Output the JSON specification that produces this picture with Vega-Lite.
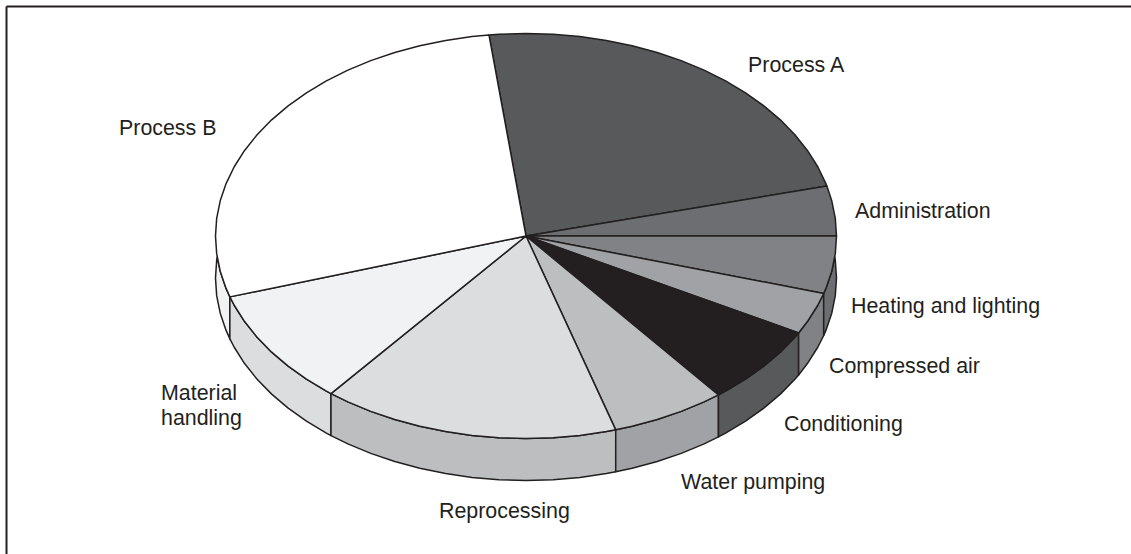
{
  "$schema": "https://vega.github.io/schema/vega-lite/v6.json",
  "width": 1125,
  "height": 548,
  "padding": {"left": 6, "top": 6, "right": 0, "bottom": 0},
  "autosize": "none",
  "background": "white",
  "config": {"view": {"stroke": null}},
  "datasets": {
    "walls": [
      {"sector":"Process B","n":1,"u":-0.9946,"v":-0.1037},{"sector":"Process B","n":2,"u":-0.9848,"v":-0.1736},{"sector":"Process B","n":3,"u":-0.9659,"v":-0.2588},{"sector":"Process B","n":4,"u":-0.9537,"v":-0.3007},{"sector":"Process B","n":5,"u":-0.9537,"v":-0.5081},{"sector":"Process B","n":6,"u":-0.9659,"v":-0.4662},{"sector":"Process B","n":7,"u":-0.9848,"v":-0.381},{"sector":"Process B","n":8,"u":-0.9962,"v":-0.2946},{"sector":"Process B","n":9,"u":-1,"v":-0.2074},{"sector":"Process B","n":10,"u":-0.9962,"v":-0.1202},
      {"sector":"Material handling","n":1,"u":-0.9537,"v":-0.3007},{"sector":"Material handling","n":2,"u":-0.9397,"v":-0.342},{"sector":"Material handling","n":3,"u":-0.9063,"v":-0.4226},{"sector":"Material handling","n":4,"u":-0.866,"v":-0.5},{"sector":"Material handling","n":5,"u":-0.8192,"v":-0.5736},{"sector":"Material handling","n":6,"u":-0.766,"v":-0.6428},{"sector":"Material handling","n":7,"u":-0.7071,"v":-0.7071},{"sector":"Material handling","n":8,"u":-0.6428,"v":-0.766},{"sector":"Material handling","n":9,"u":-0.628,"v":-0.7782},{"sector":"Material handling","n":10,"u":-0.628,"v":-0.9856},{"sector":"Material handling","n":11,"u":-0.6428,"v":-0.9734},{"sector":"Material handling","n":12,"u":-0.7071,"v":-0.9145},{"sector":"Material handling","n":13,"u":-0.766,"v":-0.8502},{"sector":"Material handling","n":14,"u":-0.8192,"v":-0.781},{"sector":"Material handling","n":15,"u":-0.866,"v":-0.7074},{"sector":"Material handling","n":16,"u":-0.9063,"v":-0.63},{"sector":"Material handling","n":17,"u":-0.9397,"v":-0.5494},{"sector":"Material handling","n":18,"u":-0.9537,"v":-0.5081},
      {"sector":"Reprocessing","n":1,"u":-0.628,"v":-0.7782},{"sector":"Reprocessing","n":2,"u":-0.5736,"v":-0.8192},{"sector":"Reprocessing","n":3,"u":-0.5,"v":-0.866},{"sector":"Reprocessing","n":4,"u":-0.4226,"v":-0.9063},{"sector":"Reprocessing","n":5,"u":-0.342,"v":-0.9397},{"sector":"Reprocessing","n":6,"u":-0.2588,"v":-0.9659},{"sector":"Reprocessing","n":7,"u":-0.1736,"v":-0.9848},{"sector":"Reprocessing","n":8,"u":-0.0872,"v":-0.9962},{"sector":"Reprocessing","n":9,"u":0,"v":-1},{"sector":"Reprocessing","n":10,"u":0.0872,"v":-0.9962},{"sector":"Reprocessing","n":11,"u":0.1736,"v":-0.9848},{"sector":"Reprocessing","n":12,"u":0.2588,"v":-0.9659},{"sector":"Reprocessing","n":13,"u":0.289,"v":-0.9573},{"sector":"Reprocessing","n":14,"u":0.289,"v":-1.1647},{"sector":"Reprocessing","n":15,"u":0.2588,"v":-1.1733},{"sector":"Reprocessing","n":16,"u":0.1736,"v":-1.1922},{"sector":"Reprocessing","n":17,"u":0.0872,"v":-1.2036},{"sector":"Reprocessing","n":18,"u":0,"v":-1.2074},{"sector":"Reprocessing","n":19,"u":-0.0872,"v":-1.2036},{"sector":"Reprocessing","n":20,"u":-0.1736,"v":-1.1922},{"sector":"Reprocessing","n":21,"u":-0.2588,"v":-1.1733},{"sector":"Reprocessing","n":22,"u":-0.342,"v":-1.1471},{"sector":"Reprocessing","n":23,"u":-0.4226,"v":-1.1137},{"sector":"Reprocessing","n":24,"u":-0.5,"v":-1.0734},{"sector":"Reprocessing","n":25,"u":-0.5736,"v":-1.0266},{"sector":"Reprocessing","n":26,"u":-0.628,"v":-0.9856},
      {"sector":"Water pumping","n":1,"u":0.289,"v":-0.9573},{"sector":"Water pumping","n":2,"u":0.342,"v":-0.9397},{"sector":"Water pumping","n":3,"u":0.4226,"v":-0.9063},{"sector":"Water pumping","n":4,"u":0.5,"v":-0.866},{"sector":"Water pumping","n":5,"u":0.5736,"v":-0.8192},{"sector":"Water pumping","n":6,"u":0.6198,"v":-0.7848},{"sector":"Water pumping","n":7,"u":0.6198,"v":-0.9922},{"sector":"Water pumping","n":8,"u":0.5736,"v":-1.0266},{"sector":"Water pumping","n":9,"u":0.5,"v":-1.0734},{"sector":"Water pumping","n":10,"u":0.4226,"v":-1.1137},{"sector":"Water pumping","n":11,"u":0.342,"v":-1.1471},{"sector":"Water pumping","n":12,"u":0.289,"v":-1.1647},
      {"sector":"Conditioning","n":1,"u":0.6198,"v":-0.7848},{"sector":"Conditioning","n":2,"u":0.6428,"v":-0.766},{"sector":"Conditioning","n":3,"u":0.7071,"v":-0.7071},{"sector":"Conditioning","n":4,"u":0.766,"v":-0.6428},{"sector":"Conditioning","n":5,"u":0.8192,"v":-0.5736},{"sector":"Conditioning","n":6,"u":0.866,"v":-0.5},{"sector":"Conditioning","n":7,"u":0.878,"v":-0.4787},{"sector":"Conditioning","n":8,"u":0.878,"v":-0.6861},{"sector":"Conditioning","n":9,"u":0.866,"v":-0.7074},{"sector":"Conditioning","n":10,"u":0.8192,"v":-0.781},{"sector":"Conditioning","n":11,"u":0.766,"v":-0.8502},{"sector":"Conditioning","n":12,"u":0.7071,"v":-0.9145},{"sector":"Conditioning","n":13,"u":0.6428,"v":-0.9734},{"sector":"Conditioning","n":14,"u":0.6198,"v":-0.9922},
      {"sector":"Compressed air","n":1,"u":0.878,"v":-0.4787},{"sector":"Compressed air","n":2,"u":0.9063,"v":-0.4226},{"sector":"Compressed air","n":3,"u":0.9397,"v":-0.342},{"sector":"Compressed air","n":4,"u":0.9588,"v":-0.284},{"sector":"Compressed air","n":5,"u":0.9588,"v":-0.4914},{"sector":"Compressed air","n":6,"u":0.9397,"v":-0.5494},{"sector":"Compressed air","n":7,"u":0.9063,"v":-0.63},{"sector":"Compressed air","n":8,"u":0.878,"v":-0.6861},
      {"sector":"Heating and lighting","n":1,"u":0.9946,"v":-0.1037},{"sector":"Heating and lighting","n":2,"u":0.9848,"v":-0.1736},{"sector":"Heating and lighting","n":3,"u":0.9659,"v":-0.2588},{"sector":"Heating and lighting","n":4,"u":0.9588,"v":-0.284},{"sector":"Heating and lighting","n":5,"u":0.9588,"v":-0.4914},{"sector":"Heating and lighting","n":6,"u":0.9659,"v":-0.4662},{"sector":"Heating and lighting","n":7,"u":0.9848,"v":-0.381},{"sector":"Heating and lighting","n":8,"u":0.9962,"v":-0.2946},{"sector":"Heating and lighting","n":9,"u":1,"v":-0.2074},{"sector":"Heating and lighting","n":10,"u":0.9962,"v":-0.1202}
    ],
    "faces": [
      {"sector":"Process A","n":0,"u":0,"v":0},{"sector":"Process A","n":1,"u":-0.1193,"v":0.9929},{"sector":"Process A","n":2,"u":-0.0872,"v":0.9962},{"sector":"Process A","n":3,"u":0,"v":1},{"sector":"Process A","n":4,"u":0.0872,"v":0.9962},{"sector":"Process A","n":5,"u":0.1736,"v":0.9848},{"sector":"Process A","n":6,"u":0.2588,"v":0.9659},{"sector":"Process A","n":7,"u":0.342,"v":0.9397},{"sector":"Process A","n":8,"u":0.4226,"v":0.9063},{"sector":"Process A","n":9,"u":0.5,"v":0.866},{"sector":"Process A","n":10,"u":0.5736,"v":0.8192},{"sector":"Process A","n":11,"u":0.6428,"v":0.766},{"sector":"Process A","n":12,"u":0.7071,"v":0.7071},{"sector":"Process A","n":13,"u":0.766,"v":0.6428},{"sector":"Process A","n":14,"u":0.8192,"v":0.5736},{"sector":"Process A","n":15,"u":0.866,"v":0.5},{"sector":"Process A","n":16,"u":0.9063,"v":0.4226},{"sector":"Process A","n":17,"u":0.9397,"v":0.342},{"sector":"Process A","n":18,"u":0.9659,"v":0.2588},{"sector":"Process A","n":19,"u":0.969,"v":0.247},
      {"sector":"Administration","n":0,"u":0,"v":0},{"sector":"Administration","n":1,"u":0.969,"v":0.247},{"sector":"Administration","n":2,"u":0.9848,"v":0.1736},{"sector":"Administration","n":3,"u":0.9962,"v":0.0872},{"sector":"Administration","n":4,"u":1,"v":0},
      {"sector":"Heating and lighting","n":0,"u":0,"v":0},{"sector":"Heating and lighting","n":1,"u":1,"v":0},{"sector":"Heating and lighting","n":2,"u":0.9962,"v":-0.0872},{"sector":"Heating and lighting","n":3,"u":0.9848,"v":-0.1736},{"sector":"Heating and lighting","n":4,"u":0.9659,"v":-0.2588},{"sector":"Heating and lighting","n":5,"u":0.9588,"v":-0.284},
      {"sector":"Compressed air","n":0,"u":0,"v":0},{"sector":"Compressed air","n":1,"u":0.9588,"v":-0.284},{"sector":"Compressed air","n":2,"u":0.9397,"v":-0.342},{"sector":"Compressed air","n":3,"u":0.9063,"v":-0.4226},{"sector":"Compressed air","n":4,"u":0.878,"v":-0.4787},
      {"sector":"Conditioning","n":0,"u":0,"v":0},{"sector":"Conditioning","n":1,"u":0.878,"v":-0.4787},{"sector":"Conditioning","n":2,"u":0.866,"v":-0.5},{"sector":"Conditioning","n":3,"u":0.8192,"v":-0.5736},{"sector":"Conditioning","n":4,"u":0.766,"v":-0.6428},{"sector":"Conditioning","n":5,"u":0.7071,"v":-0.7071},{"sector":"Conditioning","n":6,"u":0.6428,"v":-0.766},{"sector":"Conditioning","n":7,"u":0.6198,"v":-0.7848},
      {"sector":"Water pumping","n":0,"u":0,"v":0},{"sector":"Water pumping","n":1,"u":0.6198,"v":-0.7848},{"sector":"Water pumping","n":2,"u":0.5736,"v":-0.8192},{"sector":"Water pumping","n":3,"u":0.5,"v":-0.866},{"sector":"Water pumping","n":4,"u":0.4226,"v":-0.9063},{"sector":"Water pumping","n":5,"u":0.342,"v":-0.9397},{"sector":"Water pumping","n":6,"u":0.289,"v":-0.9573},
      {"sector":"Reprocessing","n":0,"u":0,"v":0},{"sector":"Reprocessing","n":1,"u":0.289,"v":-0.9573},{"sector":"Reprocessing","n":2,"u":0.2588,"v":-0.9659},{"sector":"Reprocessing","n":3,"u":0.1736,"v":-0.9848},{"sector":"Reprocessing","n":4,"u":0.0872,"v":-0.9962},{"sector":"Reprocessing","n":5,"u":0,"v":-1},{"sector":"Reprocessing","n":6,"u":-0.0872,"v":-0.9962},{"sector":"Reprocessing","n":7,"u":-0.1736,"v":-0.9848},{"sector":"Reprocessing","n":8,"u":-0.2588,"v":-0.9659},{"sector":"Reprocessing","n":9,"u":-0.342,"v":-0.9397},{"sector":"Reprocessing","n":10,"u":-0.4226,"v":-0.9063},{"sector":"Reprocessing","n":11,"u":-0.5,"v":-0.866},{"sector":"Reprocessing","n":12,"u":-0.5736,"v":-0.8192},{"sector":"Reprocessing","n":13,"u":-0.628,"v":-0.7782},
      {"sector":"Material handling","n":0,"u":0,"v":0},{"sector":"Material handling","n":1,"u":-0.628,"v":-0.7782},{"sector":"Material handling","n":2,"u":-0.6428,"v":-0.766},{"sector":"Material handling","n":3,"u":-0.7071,"v":-0.7071},{"sector":"Material handling","n":4,"u":-0.766,"v":-0.6428},{"sector":"Material handling","n":5,"u":-0.8192,"v":-0.5736},{"sector":"Material handling","n":6,"u":-0.866,"v":-0.5},{"sector":"Material handling","n":7,"u":-0.9063,"v":-0.4226},{"sector":"Material handling","n":8,"u":-0.9397,"v":-0.342},{"sector":"Material handling","n":9,"u":-0.9537,"v":-0.3007},
      {"sector":"Process B","n":0,"u":0,"v":0},{"sector":"Process B","n":1,"u":-0.9537,"v":-0.3007},{"sector":"Process B","n":2,"u":-0.9659,"v":-0.2588},{"sector":"Process B","n":3,"u":-0.9848,"v":-0.1736},{"sector":"Process B","n":4,"u":-0.9962,"v":-0.0872},{"sector":"Process B","n":5,"u":-1,"v":0},{"sector":"Process B","n":6,"u":-0.9962,"v":0.0872},{"sector":"Process B","n":7,"u":-0.9848,"v":0.1736},{"sector":"Process B","n":8,"u":-0.9659,"v":0.2588},{"sector":"Process B","n":9,"u":-0.9397,"v":0.342},{"sector":"Process B","n":10,"u":-0.9063,"v":0.4226},{"sector":"Process B","n":11,"u":-0.866,"v":0.5},{"sector":"Process B","n":12,"u":-0.8192,"v":0.5736},{"sector":"Process B","n":13,"u":-0.766,"v":0.6428},{"sector":"Process B","n":14,"u":-0.7071,"v":0.7071},{"sector":"Process B","n":15,"u":-0.6428,"v":0.766},{"sector":"Process B","n":16,"u":-0.5736,"v":0.8192},{"sector":"Process B","n":17,"u":-0.5,"v":0.866},{"sector":"Process B","n":18,"u":-0.4226,"v":0.9063},{"sector":"Process B","n":19,"u":-0.342,"v":0.9397},{"sector":"Process B","n":20,"u":-0.2588,"v":0.9659},{"sector":"Process B","n":21,"u":-0.1736,"v":0.9848},{"sector":"Process B","n":22,"u":-0.1193,"v":0.9929}
    ],
    "labels": [
      {"label":"Process A","u":0.715,"v":0.8444},
      {"label":"Process B","u":-1.3108,"v":0.5333},
      {"label":"Administration","u":1.0596,"v":0.1235},
      {"label":"Heating and lighting","u":1.0467,"v":-0.3457},
      {"label":"Compressed air","u":0.9758,"v":-0.642},
      {"label":"Conditioning","u":0.8309,"v":-0.9284},
      {"label":"Water pumping","u":0.4992,"v":-1.2148},
      {"label":"Reprocessing","u":-0.2802,"v":-1.358},
      {"label":"Material\nhandling","u":-1.1755,"v":-0.7753}
    ]
  },
  "layer": [
    {
      "data": {"name": "walls"},
      "mark": {"type": "line", "interpolate": "linear-closed", "stroke": "#231f20", "strokeWidth": 1.5, "strokeJoin": "round"},
      "encoding": {
        "x": {"field": "u", "type": "quantitative", "scale": {"domain": [-1.6747, 1.9485], "nice": false, "zero": false},
          "axis": {"orient": "top", "title": null, "labels": false, "ticks": false, "grid": false, "domain": true, "domainColor": "#231f20", "domainWidth": 2}},
        "y": {"field": "v", "type": "quantitative", "scale": {"domain": [-1.5704, 1.1358], "nice": false, "zero": false},
          "axis": {"orient": "left", "title": null, "labels": false, "ticks": false, "grid": false, "domain": true, "domainColor": "#231f20", "domainWidth": 2}},
        "order": {"field": "n", "type": "quantitative"},
        "fill": {"field": "sector", "type": "nominal", "legend": null,
          "scale": {"domain": ["Process B", "Material handling", "Reprocessing", "Water pumping", "Conditioning", "Compressed air", "Heating and lighting"],
            "range": ["#f1f2f2", "#dcddde", "#bcbec0", "#a0a2a5", "#58595b", "#808285", "#6d6e71"]}}
      }
    },
    {
      "data": {"name": "faces"},
      "mark": {"type": "line", "interpolate": "linear-closed", "stroke": "#231f20", "strokeWidth": 1.5, "strokeJoin": "round"},
      "encoding": {
        "x": {"field": "u", "type": "quantitative"},
        "y": {"field": "v", "type": "quantitative"},
        "order": {"field": "n", "type": "quantitative"},
        "fill": {"field": "sector", "type": "nominal", "legend": null,
          "scale": {"domain": ["Process A", "Administration", "Heating and lighting", "Compressed air", "Conditioning", "Water pumping", "Reprocessing", "Material handling", "Process B"],
            "range": ["#58595b", "#6d6e71", "#808285", "#a0a2a5", "#231f20", "#bcbec0", "#dcddde", "#f1f2f4", "#ffffff"]}}
      }
    },
    {
      "data": {"name": "labels"},
      "mark": {"type": "text", "align": "left", "baseline": "middle", "dy": 1, "font": "Liberation Sans", "fontSize": 21.4, "fill": "#231f20", "lineBreak": "\n", "lineHeight": 25},
      "encoding": {
        "x": {"field": "u", "type": "quantitative"},
        "y": {"field": "v", "type": "quantitative"},
        "text": {"field": "label", "type": "nominal"}
      }
    }
  ],
  "resolve": {"scale": {"fill": "independent"}}
}
